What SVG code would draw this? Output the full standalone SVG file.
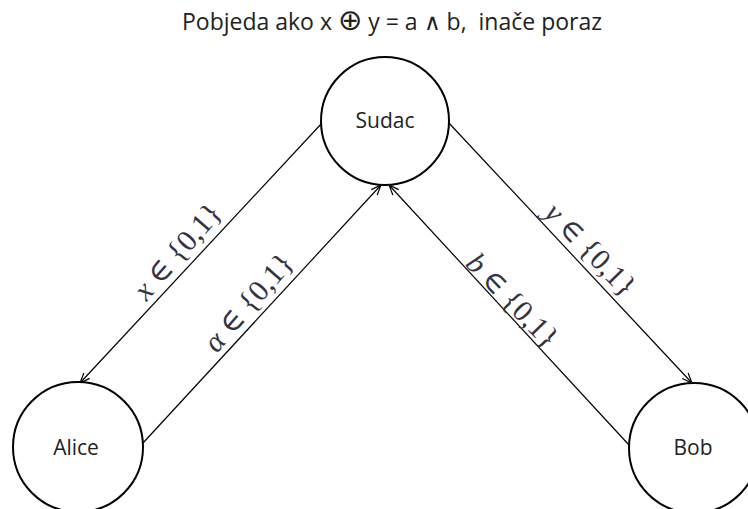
<svg xmlns="http://www.w3.org/2000/svg" width="748" height="509" viewBox="0 0 748 509">
<style>
.node circle{fill:#fff;stroke:#000;stroke-width:2}
.node text{font-family:"Open Sans","Liberation Sans",sans-serif;font-size:21px;fill:#222;text-anchor:middle}
.edge{stroke:#000;stroke-width:1.2;fill:none;marker-end:url(#arr)}
.lbl{font-family:"Liberation Serif","DejaVu Serif",serif;font-size:30px;fill:#333344;text-anchor:middle}
.title{font-family:"Open Sans","Liberation Sans",sans-serif;font-size:23px;fill:#222}
</style>
<defs>
<marker id="arr" markerWidth="12" markerHeight="10" refX="11" refY="5" orient="auto" markerUnits="userSpaceOnUse">
<path d="M1,1 L11,5 L1,9" fill="none" stroke="#000" stroke-width="1.2"/>
</marker>
</defs>
<text class="title" x="392" y="30" text-anchor="middle" xml:space="preserve">Pobjeda ako x <tspan font-size="29" font-family="DejaVu Sans,sans-serif">⊕</tspan> y = a ∧ b,&#160; inače poraz</text>
<g id="connectors">
<line class="edge" x1="322" y1="123" x2="80" y2="383"/>
<line class="edge" x1="143" y1="443" x2="381" y2="185"/>
<line class="edge" x1="629" y1="445" x2="389" y2="185"/>
<line class="edge" x1="448" y1="122" x2="692" y2="383"/>
<text class="lbl" transform="translate(177,251) rotate(-49)" dy="0.35em"><tspan font-style="italic">x</tspan> ∈ {0,1}</text>
<text class="lbl" transform="translate(248,302) rotate(-49)" dy="0.35em"><tspan font-style="italic">α</tspan> ∈ {0,1}</text>
<text class="lbl" transform="translate(591,249) rotate(46)" dy="0.35em"><tspan font-style="italic">y</tspan> ∈ {0,1}</text>
<text class="lbl" transform="translate(513,300) rotate(46)" dy="0.35em"><tspan font-style="italic">b</tspan> ∈ {0,1}</text>
</g>
<g id="sudac" class="node"><circle cx="385" cy="121" r="64"/><text x="385" y="128">Sudac</text></g>
<g id="alice" class="node"><circle cx="78" cy="447" r="65"/><text x="76" y="455">Alice</text></g>
<g id="bob" class="node"><circle cx="694" cy="448" r="65"/><text x="693" y="455">Bob</text></g>
</svg>
